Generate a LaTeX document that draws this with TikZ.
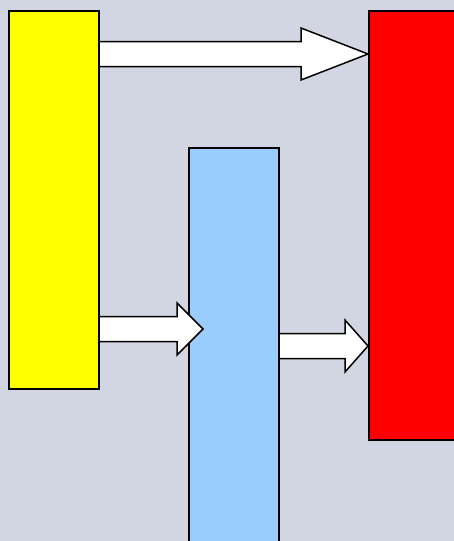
\documentclass[tikz,border=0pt]{standalone}
\usetikzlibrary{calc}

\definecolor{bgcol}{RGB}{209, 214, 226}
\definecolor{boxyellow}{RGB}{255, 255, 0}
\definecolor{boxblue}{RGB}{153, 204, 255}
\definecolor{boxred}{RGB}{255, 0, 0}

\tikzset{
  slab/.style={draw=black, line width=2pt, rectangle, inner sep=0pt,
    minimum width=90pt, anchor=north west},
  fatarrow/.style={draw=black, fill=white, line width=1.5pt, line join=miter}
}

% block arrow from #1 to #2 (horizontal), head length #3
\newcommand{\fatarrow}[3]{%
  \draw[fatarrow] let \p1=(#1), \p2=(#2) in
    (\x1, \y1+12.5pt) -- (\x2-#3pt, \y1+12.5pt) -- (\x2-#3pt, \y1+26pt)
    -- (\x2, \y1) -- (\x2-#3pt, \y1-26pt) -- (\x2-#3pt, \y1-12.5pt)
    -- (\x1, \y1-12.5pt);
}

\begin{document}
\begin{tikzpicture}[x=1pt, y=-1pt]
      \useasboundingbox (0,0) rectangle (454,541);
      \fill[bgcol] (0,0) rectangle (454,541);
      \clip (0,0) rectangle (454,541);

      % the three slabs
      \node[slab, fill=boxyellow, minimum height=378pt] (yel) at (8,10) {};
      \node[slab, fill=boxblue, minimum height=420pt] (blu) at (188,147) {};
      \node[slab, fill=boxred, minimum height=429pt] (red) at (368,10) {};

      % arrows
      \coordinate (midtip) at (203,329);
      \fatarrow{yel.east |- 0,54}{red.west |- 0,54}{67}
      \fatarrow{yel.east |- 0,329}{midtip}{26}
      \fatarrow{blu.east |- 0,346}{red.west |- 0,346}{23}
\end{tikzpicture}
\end{document}
